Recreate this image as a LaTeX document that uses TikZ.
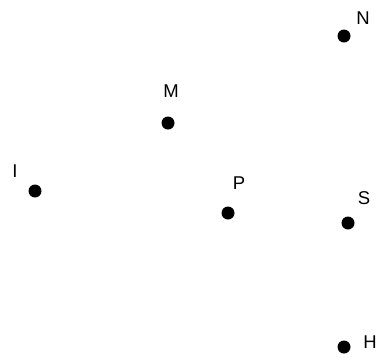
\documentclass[tikz,border=0pt]{standalone}
\usepackage{fontspec}
\setmainfont{Liberation Sans}
\begin{document}
\begin{tikzpicture}[x=1pt,y=-1pt,
  pt/.style={circle,fill=black,inner sep=0pt,minimum size=13pt},
  lab/.style={inner sep=0pt,font=\fontsize{18.5}{18.5}\selectfont}]
\useasboundingbox[fill=white] (0,0) rectangle (380,360);
\node[pt] (N) at (344,36) {};
\node[pt] (M) at (168,123) {};
\node[pt] (I) at (35,191) {};
\node[pt] (P) at (228,213) {};
\node[pt] (S) at (348,223) {};
\node[pt] (H) at (344,347) {};
\node[lab] (Nl) at (363,18) {N};
\node[lab] (Ml) at (171,91) {M};
\node[lab] (Il) at (15,171) {I};
\node[lab] (Pl) at (239,183) {P};
\node[lab] (Sl) at (364,198) {S};
\node[lab] (Hl) at (370,342) {H};
\end{tikzpicture}
\end{document}
